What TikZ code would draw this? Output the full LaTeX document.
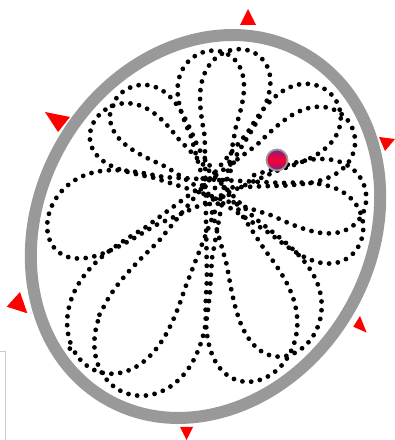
\documentclass[tikz,border=0pt]{standalone}
\usepackage[dvipsnames]{xcolor}
\usetikzlibrary{arrows.meta,positioning}
\definecolor{rimgray}{RGB}{153,153,153}
\definecolor{framegray}{RGB}{204,204,204}
\definecolor{ballpurple}{RGB}{125,30,140}
\definecolor{ballred}{RGB}{255,0,45}
\tikzset{
  rim/.style={draw=rimgray,line width=0.12cm},
  trail/.style={line width=0.048cm,dash pattern=on 0cm off 0.088cm,line cap=round},
  marker/.style={fill=red,draw=none},
  ball/.style={circle,draw=rimgray,line width=0.018cm,minimum size=0.21cm,inner sep=0pt,
    top color=ballpurple,bottom color=ballpurple,middle color=ballred},
  declare function={
    qa(\f)=cos(\f-60.3)*cos(\f-60.3)/3.7249+sin(\f-60.3)*sin(\f-60.3)/2.56;
    qb(\f)=2*(0.3815*cos(\f-60.3)/3.7249+0.1083*sin(\f-60.3)/2.56);
    bd(\f)=(-qb(\f)+sqrt(qb(\f)*qb(\f)+3.8254*qa(\f)))/(2*qa(\f));
    pc(\t)=(floor(\t/27.6923)+0.5)*27.6923;
    ph(\t)=10+180*(sin(6.5*\t)<0)+pc(\t)+1.6*(\t-pc(\t));
    rr(\t)=abs(sin(6.5*\t))^0.2*(bd(ph(\t))-0.08);
  }
}
\begin{document}
\begin{tikzpicture}[x=1cm,y=1cm]
\useasboundingbox (0,0) rectangle (3.94,4.40);
\draw[framegray,line width=0.01cm] (0,0.88)--(0.05,0.88)--(0.05,0);
% the table rim
\draw[rim,rotate around={60.3:(2.055,2.135)}] (2.055,2.135) ellipse [x radius=1.99,y radius=1.66];
% rosette path of the ball, one dot per step
\draw[trail,domain=0:360,samples=1801] plot ({2.15+rr(\x)*cos(ph(\x))},{2.52+rr(\x)*sin(ph(\x))});
\node[ball] (puck) at (2.77,2.80) {};
% red markers round the rim
\fill[marker] (2.48,4.31)--(2.40,4.15)--(2.56,4.15)--cycle;
\fill[marker] (3.79,3.03)--(3.95,3.01)--(3.85,2.89)--cycle;
\fill[marker] (0.45,3.28)--(0.70,3.23)--(0.58,3.08)--cycle;
\fill[marker] (0.20,1.48)--(0.067,1.333)--(0.273,1.267)--cycle;
\fill[marker] (3.60,1.24)--(3.533,1.133)--(3.667,1.073)--cycle;
\fill[marker] (1.80,0.13)--(1.93,0.13)--(1.865,0.00)--cycle;
\end{tikzpicture}
\end{document}
